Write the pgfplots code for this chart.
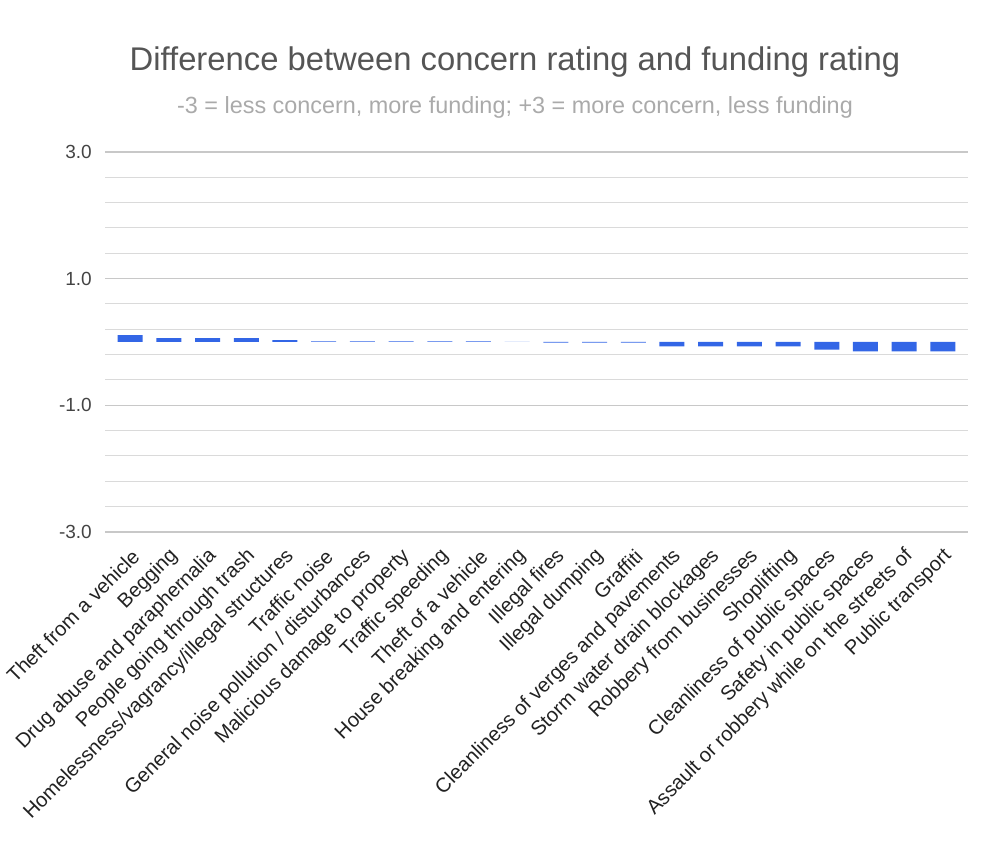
\documentclass[border=0pt]{standalone}
\usepackage{pgfplots}
\pgfplotsset{compat=1.18}
\usepackage{fontspec}
\setmainfont{Liberation Sans}
\definecolor{barblue}{HTML}{3366E6}
\definecolor{titlegray}{HTML}{555555}
\definecolor{subgray}{HTML}{AAAAAA}
\definecolor{tickgray}{HTML}{444444}
\definecolor{labgray}{HTML}{222222}
\definecolor{gridgray}{HTML}{C8C8C8}
\definecolor{minorgray}{HTML}{DADADA}
\begin{document}
\begin{tikzpicture}[x=1pt,y=1pt]
\begin{axis}[
  at={(105pt,324pt)}, anchor=south west,
  scale only axis, width=863pt, height=380pt,
  xmin=-0.65, xmax=21.65, ymin=-3, ymax=3,
  ytick={-3,-1,1,3},
  minor ytick={-2.6,-2.2,-1.8,-1.4,-0.6,-0.2,0.2,0.6,1.4,1.8,2.2,2.6},
  ymajorgrids, yminorgrids,
  major grid style={gridgray, line width=1.2pt},
  minor grid style={minorgray, line width=1pt},
  xtick={0,...,21},
  xticklabels={Theft from a vehicle, Begging, Drug abuse and paraphernalia, People going through trash, Homelessness/vagrancy/illegal structures, Traffic noise, General noise pollution / disturbances, Malicious damage to property, Traffic speeding, Theft of a vehicle, House breaking and entering, Illegal fires, Illegal dumping, Graffiti, Cleanliness of verges and pavements, Storm water drain blockages, Robbery from businesses, Shoplifting, Cleanliness of public spaces, Safety in public spaces, Assault or robbery while on the streets of, Public transport},
  axis line style={draw=none},
  major tick length=0pt, minor tick length=0pt,
  tick style={draw=none},
  /pgf/number format/assume math mode=true,
  yticklabel style={font=\fontsize{19}{19}\selectfont, color=tickgray, anchor=east, inner sep=0pt, xshift=-13pt,
    /pgf/number format/fixed, /pgf/number format/fixed zerofill, /pgf/number format/precision=1},
  xticklabel style={xshift=5.7pt, yshift=-21pt, rotate=45, anchor=east, inner sep=0pt, font=\fontsize{20.2}{21}\selectfont, color=labgray},
  ybar, bar width=25pt,
]
\addplot[fill=barblue, draw=none] coordinates {
(0,0.11) (1,0.06) (2,0.06) (3,0.06) (4,0.03) (5,0.01) (6,0.01) (7,0.01) (8,0.01) (9,0.01) (10,0)
(11,-0.01) (12,-0.01) (13,-0.01) (14,-0.07) (15,-0.07) (16,-0.07) (17,-0.07) (18,-0.12) (19,-0.15) (20,-0.15) (21,-0.15)
};
\end{axis}
\node[font=\fontsize{32.8}{33}\selectfont, color=titlegray] at (515pt,794pt) {Difference between concern rating and funding rating};
\node[font=\fontsize{23.4}{24}\selectfont, color=subgray] at (515pt,749pt) {-3 = less concern, more funding; +3 = more concern, less funding};
\pgfresetboundingbox
\path[use as bounding box] (0pt,0pt) rectangle (993pt,856pt);
\end{tikzpicture}
\end{document}
